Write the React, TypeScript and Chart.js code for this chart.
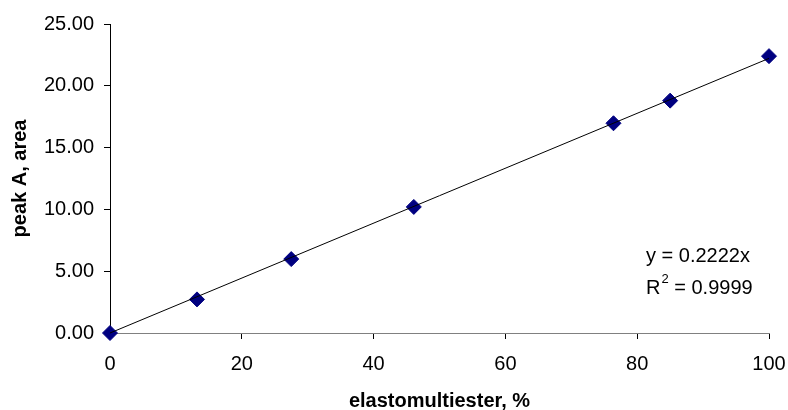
import React, { useEffect, useRef } from "react";
import { Chart, registerables } from "chart.js";

Chart.register(...registerables);

// Measured samples: elastomultiester content vs. peak A area
const elastomultiester = [0, 13.2, 27.5, 46.1, 76.4, 85.0, 100];
const peakArea = [0, 2.72, 5.98, 10.2, 16.97, 18.8, 22.4];

// Linear fit through the origin
const slope = 0.2222;
const rSquared = "0.9999";
const trendX = [0, 100];

const xTicks = [0, 20, 40, 60, 80, 100];
const yTicks = [0, 5, 10, 15, 20, 25];

const FONT = "'Liberation Sans', Arial, Helvetica, sans-serif";

const equationPlugin = {
  id: "equationLabel",
  afterDraw(chart: any) {
    const { ctx, chartArea } = chart;
    const x = chartArea.right - 123;
    const y1 = chartArea.top + 232;
    const y2 = chartArea.top + 264;
    ctx.save();
    ctx.fillStyle = "#000";
    ctx.textBaseline = "middle";
    ctx.textAlign = "left";
    ctx.font = `20px ${FONT}`;
    ctx.fillText(`y = ${slope.toFixed(4)}x`, x, y1);
    ctx.fillText("R", x, y2);
    const rW = ctx.measureText("R").width;
    ctx.font = `13px ${FONT}`;
    ctx.fillText("2", x + rW + 1, y2 - 9);
    const supW = ctx.measureText("2").width;
    ctx.font = `20px ${FONT}`;
    ctx.fillText(` = ${rSquared}`, x + rW + 1 + supW, y2);
    ctx.restore();
  },
};

export default function App() {
  const canvasRef = useRef<HTMLCanvasElement | null>(null);

  useEffect(() => {
    document.body.style.margin = "0";
    const canvas = canvasRef.current;
    if (!canvas) return;

    const chart = new Chart(canvas, {
      type: "scatter",
      data: {
        datasets: [
          {
            type: "line",
            label: "Linear fit",
            data: trendX.map((x) => ({ x, y: slope * x })),
            borderColor: "#000",
            borderWidth: 1,
            pointRadius: 0,
            fill: false,
            clip: false,
            order: 0,
          },
          {
            label: "peak A",
            data: elastomultiester.map((x, i) => ({ x, y: peakArea[i] })),
            pointStyle: "rectRot",
            pointRadius: 7.5,
            pointBackgroundColor: "#000080",
            pointBorderColor: "#000080",
            pointBorderWidth: 1,
            showLine: false,
            clip: false,
            order: 1,
          },
        ],
      },
      options: {
        responsive: false,
        animation: false,
        devicePixelRatio: 1,
        layout: { padding: { top: 24, right: 19, left: 0, bottom: 0 } },
        plugins: {
          legend: { display: false },
          tooltip: { enabled: false },
        },
        scales: {
          x: {
            type: "linear",
            min: 0,
            max: 100,
            afterFit: (scale: any) => {
              scale.height = 77;
              scale.paddingLeft = 0;
              scale.paddingRight = 0;
            },
            afterBuildTicks: (scale: any) => {
              scale.ticks = xTicks.map((v) => ({ value: v }));
            },
            ticks: {
              color: "#000",
              font: { family: FONT, size: 20 },
              padding: 13,
              maxRotation: 0,
            },
            grid: {
              drawOnChartArea: false,
              drawTicks: true,
              tickLength: 6,
              color: "#000",
            },
            border: { display: true, color: "#808080", width: 1 },
            title: {
              display: true,
              text: "elastomultiester, %",
              color: "#000",
              font: { family: FONT, size: 20, weight: "bold", lineHeight: 1 },
              padding: { top: 0, bottom: -1 },
            },
          },
          y: {
            type: "linear",
            min: 0,
            max: 25,
            afterFit: (scale: any) => {
              scale.width = 110;
              scale.paddingTop = 0;
              scale.paddingBottom = 0;
            },
            afterBuildTicks: (scale: any) => {
              scale.ticks = yTicks.map((v) => ({ value: v }));
            },
            ticks: {
              color: "#000",
              font: { family: FONT, size: 20 },
              padding: 10,
              callback: (v: any) => Number(v).toFixed(2),
            },
            grid: {
              drawOnChartArea: false,
              drawTicks: true,
              tickLength: 6,
              color: "#000",
            },
            border: { display: true, color: "#000", width: 1 },
            title: {
              display: true,
              text: "peak A, area",
              color: "#000",
              font: { family: FONT, size: 20, weight: "bold", lineHeight: 1.2 },
              padding: { top: 8, bottom: 0 },
            },
          },
        },
      },
      plugins: [equationPlugin],
    });

    return () => chart.destroy();
  }, []);

  return <canvas ref={canvasRef} width={788} height={410} />;
}
